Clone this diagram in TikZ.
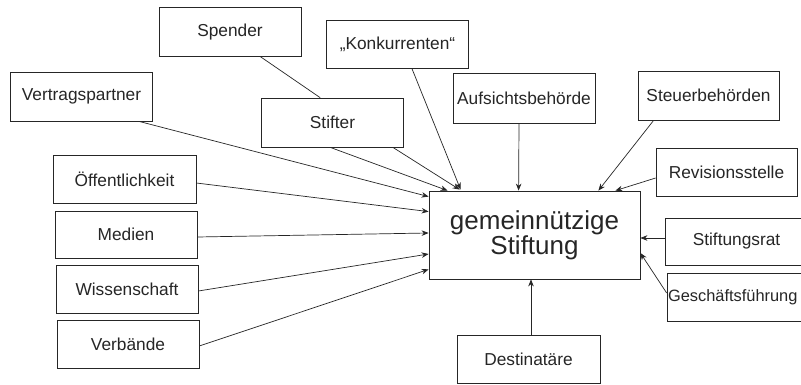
\documentclass[tikz,border=0pt]{standalone}
\usepackage{fontspec}
\setmainfont{Liberation Sans}
\usetikzlibrary{arrows.meta}
\begin{document}
\begin{tikzpicture}[x=1pt,y=-1pt,
  box/.style={draw=black!85, line width=0.7pt, inner sep=0pt, minimum width=142pt, minimum height=49pt,
    font=\fontsize{17.3}{20}\selectfont, text=black!85},
  mainbox/.style={draw=black!85, line width=0.8pt, inner sep=0pt, minimum width=211pt, minimum height=88pt,
    font=\fontsize{26}{25}\selectfont, align=center, text=black!85},
  link/.style={draw=black!85, line width=0.7pt},
  arr/.style={link, -{Stealth[length=7pt,width=5.5pt]}}]
\useasboundingbox (0,0) rectangle (801,385);
\fill[white] (0,0) rectangle (801,385);

\node[box] (spender) at (230,32) {Spender};
\node[box, minimum height=48pt] (konk) at (397.5,44) {„Konkurrenten“};
\node[box] (vertrag) at (81.5,96.5) {Vertragspartner};
\node[box] (stifter) at (332.5,122.5) {Stifter};
\node[box, minimum height=50pt] (aufsicht) at (524,98) {Aufsichtsbehörde};
\node[box, minimum width=141pt] (steuer) at (708.5,95.5) {Steuerbehörden};
\node[box, minimum width=141pt, minimum height=48pt] (revision) at (726.5,172) {Revisionsstelle};
\node[mainbox] (main) at (534.5,235) {gemeinnützige\\Stiftung};
\node[box, minimum width=143pt, minimum height=47pt] (rat) at (736.5,241.5) {Stiftungsrat};
\node[box, minimum width=143pt, minimum height=48pt, text width=141pt, align=left, inner xsep=1pt,
  font=\fontsize{16.4}{20}\selectfont] (gf) at (738.5,297) {Geschäftsführung};
\node[box, minimum width=143pt, minimum height=48pt] (dest) at (528.5,359) {Destinatäre};
\node[box, minimum width=143pt, minimum height=48pt] (oeff) at (124.5,179) {Öffentlichkeit};
\node[box, minimum height=47pt] (medien) at (126,234.5) {Medien};
\node[box, minimum height=48pt] (wiss) at (127,289) {Wissenschaft};
\node[box, minimum height=48pt] (verb) at (128,344) {Verbände};

% Spender -- Stifter
\draw[link] ([xshift=102pt]spender.south west) -- ([xshift=59pt]stifter.north west);
% top-left group
\draw[arr] ([xshift=-14pt]vertrag.south east) -- ([yshift=-6pt]main.north west);
\draw[arr] ([xshift=69pt]stifter.south west) -- ([xshift=19pt]main.north west);
\draw[arr] ([xshift=-11pt]stifter.south east) -- ([xshift=31pt,yshift=1pt]main.north west);
\draw[arr] ([xshift=-57pt]konk.south east) -- ([xshift=32pt,yshift=1pt]main.north west);
% top
\draw[arr] ([xshift=-5pt]aufsicht.south) -- ([xshift=90pt]main.north west);
\draw[arr] ([xshift=16pt]steuer.south west) -- ([xshift=-42pt]main.north east);
\draw[arr] ([yshift=-6pt]revision.west) -- ([xshift=-25pt]main.north east);
% left group
\draw[arr] ([yshift=-4pt]oeff.east) -- ([yshift=-21pt]main.north west);
\draw[arr] ([yshift=-2.5pt]medien.east) -- ([yshift=2pt]main.west);
\draw[arr] ([yshift=-2pt]wiss.east) -- ([yshift=-19pt]main.west);
\draw[arr] ([yshift=-2pt]verb.east) -- ([yshift=10pt]main.south west);
% right group
\draw[arr] ([yshift=3.5pt]rat.west) -- ([yshift=-3pt]main.east);
\draw[arr] ([yshift=4pt]gf.west) -- ([yshift=-18pt]main.east);
% bottom
\draw[arr] ([xshift=2.5pt]dest.north) -- ([xshift=-3.5pt]main.south);
\end{tikzpicture}
\end{document}
